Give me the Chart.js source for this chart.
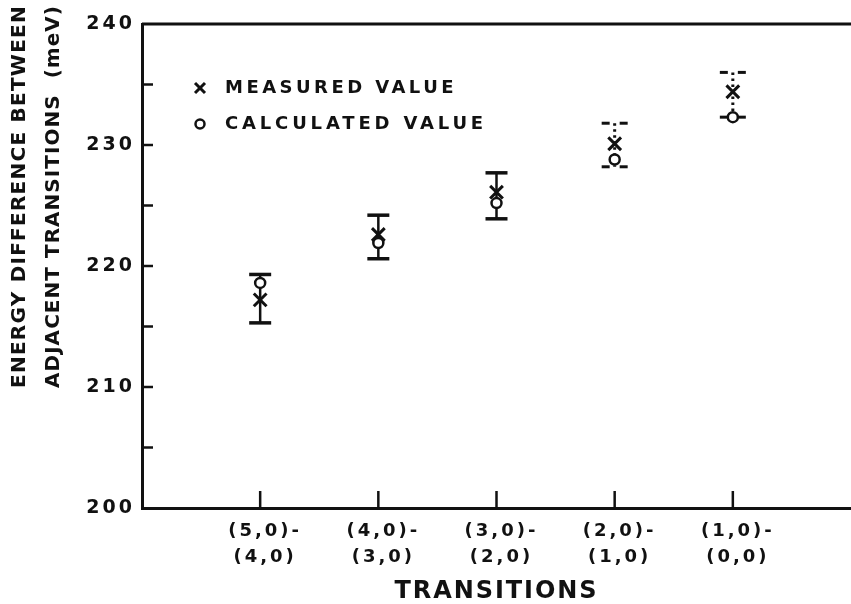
<!DOCTYPE html>
<html lang="en">
<head>
    <meta charset="UTF-8">
    <title>Energy difference between adjacent transitions</title>
    <style>
        * { margin: 0; padding: 0; box-sizing: border-box; }
        body { background: #FFFFFF; width: 851px; height: 604px; overflow: hidden; }
        .chart-box { position: relative; width: 851px; height: 604px; }
    </style>
</head>
<body>
    <div class="chart-box">
        <canvas id="chart" width="851" height="604"></canvas>
    </div>

    <script src="https://cdn.jsdelivr.net/npm/chart.js"></script>
    <script>
        // values (meV)
        const transitionsUpper = ['(5,0)-', '(4,0)-', '(3,0)-', '(2,0)-', '(1,0)-'];
        const transitionsLower = ['(4,0)', '(3,0)', '(2,0)', '(1,0)', '(0,0)'];
        const measured = [217.2, 222.6, 226.1, 230.1, 234.4];
        const measuredLow = [215.3, 220.6, 223.9, 228.2, 232.3];
        const measuredHigh = [219.3, 224.2, 227.7, 231.8, 236.0];
        const calculated = [218.6, 221.9, 225.2, 228.8, 232.3];
        const dottedBars = [false, false, false, true, true];
        const yMin = 200, yMax = 240, yStep = 5;

        const ink = '#111111';
        const family = "'DejaVu Sans', sans-serif";

        Chart.defaults.font.family = family;
        Chart.defaults.color = ink;

        function line(ctx, x1, y1, x2, y2) {
            ctx.beginPath();
            ctx.moveTo(x1, y1);
            ctx.lineTo(x2, y2);
            ctx.stroke();
        }

        // draw text stretched (by letter spacing) to a given length
        function fitText(ctx, text, size, width, x, y, align) {
            ctx.font = 'bold ' + size + 'px ' + family;
            ctx.letterSpacing = '0px';
            const natural = ctx.measureText(text).width;
            ctx.letterSpacing = ((width - natural) / text.length) + 'px';
            ctx.textAlign = align;
            ctx.textBaseline = 'middle';
            ctx.fillText(text, x, y);
        }

        const paperPlugin = {
            id: 'paper',
            beforeLayout(chart) { chart.ctx.letterSpacing = '3px'; },
            beforeDraw(chart) { chart.ctx.letterSpacing = '3px'; },
            beforeDatasetsDraw(chart) {
                const { ctx, scales: { x, y } } = chart;
                ctx.save();
                ctx.strokeStyle = ink;
                ctx.lineCap = 'butt';
                measured.forEach((v, i) => {
                    const px = x.getPixelForValue(i + 1);
                    const top = y.getPixelForValue(measuredHigh[i]);
                    const bot = y.getPixelForValue(measuredLow[i]);
                    if (dottedBars[i]) {
                        ctx.lineWidth = 3;
                        ctx.setLineDash([2.5, 3.5]);
                        line(ctx, px, top, px, bot);
                        ctx.setLineDash([]);
                        [top, bot].forEach(py => {
                            line(ctx, px - 13, py, px - 5, py);
                            line(ctx, px + 5, py, px + 13, py);
                        });
                    } else {
                        ctx.lineWidth = 2.5;
                        line(ctx, px, top, px, bot);
                        ctx.lineWidth = 3.5;
                        line(ctx, px - 11, top, px + 11, top);
                        line(ctx, px - 11, bot, px + 11, bot);
                    }
                });
                ctx.restore();
            },
            afterDraw(chart) {
                const { ctx, chartArea: area, scales: { x, y } } = chart;
                ctx.save();
                ctx.strokeStyle = ink;
                ctx.fillStyle = ink;

                // frame top line
                ctx.lineWidth = 3;
                line(ctx, area.left, area.top, area.right, area.top);

                // inward tick marks
                ctx.lineWidth = 2.5;
                y.ticks.forEach(t => {
                    const py = y.getPixelForValue(t.value);
                    if (t.value > yMin && t.value < yMax) line(ctx, area.left, py, area.left + 11, py);
                });
                x.ticks.forEach(t => {
                    if (!transitionsUpper[t.value - 1]) return;
                    const px = x.getPixelForValue(t.value);
                    line(ctx, px, area.bottom, px, area.bottom - 17);
                });

                // legend
                ctx.lineWidth = 3;
                line(ctx, 195, 83, 205, 93);
                line(ctx, 195, 93, 205, 83);
                ctx.lineWidth = 2.5;
                ctx.beginPath();
                ctx.arc(200, 124, 4.5, 0, Math.PI * 2);
                ctx.stroke();
                fitText(ctx, 'MEASURED VALUE', 18, 232, 225, 88, 'left');
                fitText(ctx, 'CALCULATED VALUE', 18, 262, 225, 124, 'left');

                // axis titles
                fitText(ctx, 'TRANSITIONS', 24, 204, (area.left + area.right) / 2, 592, 'center');
                ctx.save();
                ctx.translate(20, 388);
                ctx.rotate(-Math.PI / 2);
                fitText(ctx, 'ENERGY DIFFERENCE BETWEEN', 20, 383, 0, 0, 'left');
                ctx.restore();
                ctx.save();
                ctx.translate(54, 388);
                ctx.rotate(-Math.PI / 2);
                fitText(ctx, 'ADJACENT TRANSITIONS  (meV)', 20, 383, 0, 0, 'left');
                ctx.restore();

                ctx.restore();
            }
        };

        new Chart(document.getElementById('chart'), {
            type: 'scatter',
            data: {
                datasets: [
                    {
                        label: 'MEASURED VALUE',
                        data: measured.map((v, i) => ({ x: i + 1, y: v })),
                        pointStyle: 'crossRot',
                        pointRadius: 9,
                        borderWidth: 3,
                        borderColor: ink,
                        backgroundColor: ink
                    },
                    {
                        label: 'CALCULATED VALUE',
                        data: calculated.map((v, i) => ({ x: i + 1, y: v })),
                        pointStyle: 'circle',
                        pointRadius: 5,
                        borderWidth: 2.5,
                        borderColor: ink,
                        backgroundColor: '#FFFFFF'
                    }
                ]
            },
            options: {
                responsive: false,
                animation: false,
                layout: { autoPadding: false, padding: { top: 24, right: 0, bottom: 0, left: 0 } },
                plugins: { legend: { display: false }, tooltip: { enabled: false } },
                scales: {
                    x: {
                        type: 'linear',
                        min: 0,
                        max: 6,
                        afterFit(scale) {
                            scale.height = 96;
                            scale.paddingLeft = 0;
                            scale.paddingRight = 0;
                        },
                        grid: { drawOnChartArea: false, drawTicks: false },
                        border: { display: true, color: ink, width: 3 },
                        ticks: {
                            stepSize: 1,
                            autoSkip: false,
                            maxRotation: 0,
                            padding: 10,
                            labelOffset: 5,
                            font: { size: 18, weight: 'bold', lineHeight: 1.45 },
                            callback: v => transitionsUpper[v - 1] ? [transitionsUpper[v - 1], transitionsLower[v - 1]] : ''
                        }
                    },
                    y: {
                        min: yMin,
                        max: yMax,
                        afterFit(scale) {
                            scale.width = 142;
                            scale.paddingTop = 0;
                            scale.paddingBottom = 0;
                        },
                        grid: { drawOnChartArea: false, drawTicks: false },
                        border: { display: true, color: ink, width: 3 },
                        ticks: {
                            stepSize: yStep,
                            padding: 7,
                            font: { size: 19, weight: 'bold' },
                            callback: v => v % 10 === 0 ? v : ''
                        }
                    }
                }
            },
            plugins: [paperPlugin]
        });
    </script>
</body>
</html>
